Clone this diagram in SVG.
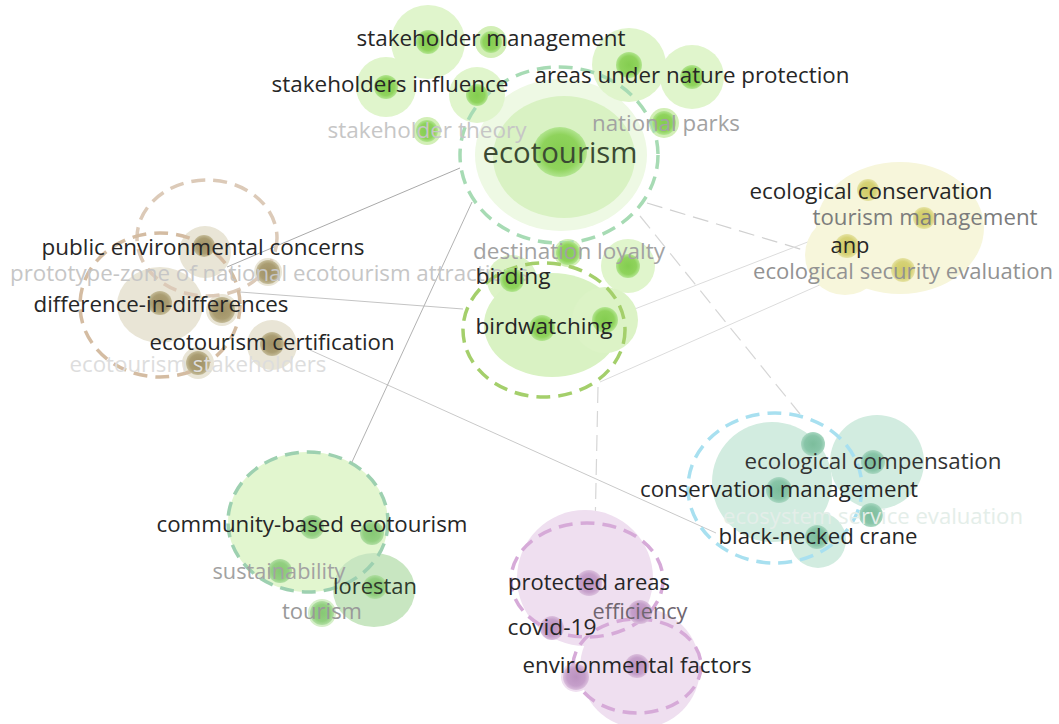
<svg xmlns="http://www.w3.org/2000/svg" width="1059" height="724" viewBox="0 0 1059 724">
<defs>
<radialGradient id="gG"><stop offset="0" stop-color="#84cd50"/><stop offset="0.7" stop-color="#8fd35c"/><stop offset="1" stop-color="#b2e590"/></radialGradient>
<radialGradient id="gT"><stop offset="0" stop-color="#a09166"/><stop offset="0.7" stop-color="#aa9d72"/><stop offset="1" stop-color="#c4bb98"/></radialGradient>
<radialGradient id="gY"><stop offset="0" stop-color="#cfca66"/><stop offset="0.7" stop-color="#d6d276"/><stop offset="1" stop-color="#e6e3a4"/></radialGradient>
<radialGradient id="gC"><stop offset="0" stop-color="#7cbd9c"/><stop offset="0.7" stop-color="#88c5a8"/><stop offset="1" stop-color="#a9d7c1"/></radialGradient>
<radialGradient id="gB"><stop offset="0" stop-color="#86c874"/><stop offset="0.7" stop-color="#92cf80"/><stop offset="1" stop-color="#b0dea2"/></radialGradient>
<radialGradient id="gP"><stop offset="0" stop-color="#bb92c0"/><stop offset="0.7" stop-color="#c59fca"/><stop offset="1" stop-color="#dbbfdd"/></radialGradient>
<style>
.lb{font-family:'Open Sans','Liberation Sans',sans-serif;font-size:21px;text-anchor:middle}
.k{fill:#262626}.m{fill:#7c7c7c}.g{fill:#a2a2a2}.l{fill:#c6c6c6}.xl{fill:#dddddd}
.dsh{fill:none;stroke-width:3.5;stroke-dasharray:14 8}
.hG{fill:#d9f2c3}.hT{fill:#e9e5d6}.hY{fill:#f7f6db}.hC{fill:#d2ece0}.hP{fill:#efdff0}
.ln{fill:none;stroke-width:1}
.lnd{fill:none;stroke-width:1.2;stroke-dasharray:16 8}
.dG{fill:url(#gG)}.dT{fill:url(#gT)}.dY{fill:url(#gY)}.dC{fill:url(#gC)}.dB{fill:url(#gB)}.dP{fill:url(#gP)}
</style>
</defs>
<rect width="1059" height="724" fill="#ffffff"/>

<g id="connectors">
<line class="ln" x1="460" y1="168" x2="227" y2="267" stroke="#a9a9a9"/>
<line class="ln" x1="240" y1="292" x2="463" y2="309" stroke="#c4c4c4"/>
<line class="ln" x1="310" y1="350" x2="716" y2="533" stroke="#c9c9c9"/>
<line class="ln" x1="472" y1="202" x2="310" y2="553" stroke="#b2b2b2"/>
<line class="lnd" x1="647" y1="203" x2="830" y2="258" stroke="#d0d0d0"/>
<line class="lnd" x1="640" y1="216" x2="800" y2="414" stroke="#d6d6d6"/>
<line class="ln" x1="627" y1="312" x2="818" y2="238" stroke="#dcdcdc"/>
<line class="ln" x1="600" y1="382" x2="840" y2="276" stroke="#dcdcdc"/>
<line class="lnd" x1="598" y1="387" x2="594" y2="580" stroke="#d6d6d6"/>
</g>

<g id="density">
<ellipse cx="561" cy="155" rx="86" ry="76" fill="#eef9e4"/>
<ellipse cx="564" cy="157" rx="71" ry="61" class="hG"/>
<circle cx="428" cy="42" r="37" fill="#e0f5cc"/>
<circle cx="491" cy="42" r="16" fill="#d2efb6"/>
<circle cx="386" cy="87" r="30" fill="#e0f5cc"/>
<circle cx="477" cy="95" r="28" fill="#e0f5cc"/>
<circle cx="427" cy="131" r="14" fill="#d2efb6"/>
<circle cx="629" cy="65" r="37" fill="#e0f5cc"/>
<circle cx="692" cy="77" r="32" fill="#e0f5cc"/>
<circle cx="664" cy="123" r="15" fill="#d2efb6"/>
<circle cx="568" cy="253" r="14" fill="#d2efb6"/>
<circle cx="628" cy="266" r="27" fill="#e0f5cc"/>
<circle cx="512" cy="280" r="25" fill="#dcf3c6"/>
<ellipse cx="552" cy="325" rx="68" ry="52" class="hG"/>
<circle cx="605" cy="320" r="33" fill="#dcf3c6"/>
<circle cx="205" cy="252" r="26" class="hT"/>
<circle cx="268" cy="272" r="14" class="hT"/>
<ellipse cx="160" cy="305" rx="43" ry="38" class="hT"/>
<circle cx="222" cy="310" r="16" class="hT"/>
<circle cx="272" cy="345" r="25" class="hT"/>
<circle cx="198" cy="363" r="16" class="hT"/>
<ellipse cx="900" cy="228" rx="84" ry="66" class="hY"/>
<circle cx="845" cy="255" r="40" class="hY"/>
<circle cx="772" cy="482" r="60" class="hC"/>
<circle cx="877" cy="462" r="47" class="hC"/>
<circle cx="818" cy="540" r="28" class="hC"/>
<ellipse cx="308" cy="522" rx="80" ry="70" fill="#e2f6cf"/>
<ellipse cx="374" cy="590" rx="41" ry="37" fill="#c8e6c1"/>
<circle cx="322" cy="613" r="14" fill="#d5efc8"/>
<circle cx="585" cy="578" r="68" class="hP"/>
<circle cx="640" cy="668" r="60" class="hP"/>
<circle cx="576" cy="677" r="15" class="hP"/>
</g>

<g id="clusters">
<ellipse class="dsh" cx="559" cy="155" rx="99" ry="88" stroke="#a7dbb4"/>
<ellipse class="dsh" cx="544" cy="330" rx="81" ry="67" stroke="#a4cf6b"/>
<ellipse class="dsh" cx="207" cy="238" rx="70" ry="58" stroke="#dccab8"/>
<ellipse class="dsh" cx="160" cy="305" rx="80" ry="72" stroke="#d4bca2"/>
<ellipse class="dsh" cx="775" cy="488" rx="87" ry="75" stroke="#a8e0f0"/>
<ellipse class="dsh" cx="308" cy="522" rx="80" ry="70" stroke="#9dd0b0"/>
<ellipse class="dsh" cx="587" cy="580" rx="76" ry="57" stroke="#d6aad8"/>
<ellipse class="dsh" cx="637" cy="666" rx="64" ry="47" stroke="#d6aad8"/>
</g>

<g id="n-u1"><circle class="dG" cx="428" cy="42" r="12"/></g>
<g id="n-u2"><circle class="dG" cx="477" cy="95" r="11"/></g>
<g id="n-u3"><circle class="dG" cx="629" cy="65" r="13"/></g>
<g id="n-u4"><circle class="dG" cx="628" cy="266" r="12"/></g>
<g id="n-u5"><circle class="dG" cx="605" cy="320" r="13"/></g>
<g id="n-u6"><circle class="dT" cx="222" cy="310" r="13"/></g>
<g id="n-u7"><circle class="dC" cx="813" cy="444" r="12"/></g>
<g id="n-u8"><circle class="dB" cx="372" cy="533" r="12"/></g>
<g id="n-u9"><circle class="dP" cx="576" cy="677" r="13"/></g>

<g id="n-ecotourism"><ellipse class="dG" cx="560" cy="152" rx="27" ry="25"/><text class="lb" x="560" y="163" style="font-size:29px;fill:#3b4a33" textLength="155" lengthAdjust="spacingAndGlyphs">ecotourism</text></g>
<g id="n-stakeholder-management"><circle class="dG" cx="491" cy="42" r="11"/><text class="lb k" x="491" y="46" textLength="269" lengthAdjust="spacingAndGlyphs">stakeholder management</text></g>
<g id="n-stakeholders-influence"><circle class="dG" cx="386" cy="87" r="12"/><text class="lb k" x="390" y="92" textLength="237" lengthAdjust="spacingAndGlyphs">stakeholders influence</text></g>
<g id="n-stakeholder-theory"><circle class="dG" cx="427" cy="131" r="11"/><text class="lb l" x="427" y="138" textLength="199" lengthAdjust="spacingAndGlyphs">stakeholder theory</text></g>
<g id="n-areas-under-nature-protection"><circle class="dG" cx="692" cy="77" r="12"/><text class="lb k" x="692" y="83" textLength="315" lengthAdjust="spacingAndGlyphs">areas under nature protection</text></g>
<g id="n-national-parks"><circle class="dG" cx="664" cy="123" r="12"/><text class="lb g" x="666" y="131" textLength="148" lengthAdjust="spacingAndGlyphs">national parks</text></g>
<g id="n-prototype-zone"><circle class="dT" cx="268" cy="272" r="12"/><text class="lb l" x="269" y="281" textLength="518" lengthAdjust="spacingAndGlyphs">prototype-zone of national ecotourism attractions</text></g>
<g id="n-destination-loyalty"><circle class="dG" cx="568" cy="253" r="12"/><text class="lb g" x="569" y="259" textLength="192" lengthAdjust="spacingAndGlyphs">destination loyalty</text></g>
<g id="n-birding"><circle class="dG" cx="512" cy="280" r="12"/><text class="lb k" x="513" y="284" textLength="75" lengthAdjust="spacingAndGlyphs">birding</text></g>
<g id="n-birdwatching"><circle class="dG" cx="542" cy="328" r="13"/><text class="lb k" x="544" y="334" textLength="137" lengthAdjust="spacingAndGlyphs">birdwatching</text></g>
<g id="n-public-environmental-concerns"><circle class="dT" cx="204" cy="246" r="11"/><text class="lb k" x="203" y="255" textLength="323" lengthAdjust="spacingAndGlyphs">public environmental concerns</text></g>
<g id="n-difference-in-differences"><circle class="dT" cx="160" cy="303" r="12"/><text class="lb k" x="161" y="312" textLength="255" lengthAdjust="spacingAndGlyphs">difference-in-differences</text></g>
<g id="n-ecotourism-certification"><circle class="dT" cx="272" cy="344" r="12"/><text class="lb k" x="272" y="350" textLength="245" lengthAdjust="spacingAndGlyphs">ecotourism certification</text></g>
<g id="n-ecotourism-stakeholders"><circle class="dT" cx="198" cy="363" r="12"/><text class="lb xl" x="198" y="372" textLength="257" lengthAdjust="spacingAndGlyphs">ecotourism stakeholders</text></g>
<g id="n-ecological-conservation"><circle class="dY" cx="868" cy="190" r="11"/><text class="lb k" x="871" y="199" textLength="243" lengthAdjust="spacingAndGlyphs">ecological conservation</text></g>
<g id="n-tourism-management"><circle class="dY" cx="924" cy="218" r="11"/><text class="lb m" x="925" y="225" textLength="225" lengthAdjust="spacingAndGlyphs">tourism management</text></g>
<g id="n-anp"><circle class="dY" cx="847" cy="246" r="12"/><text class="lb k" x="850" y="253" textLength="39" lengthAdjust="spacingAndGlyphs">anp</text></g>
<g id="n-ecological-security-evaluation"><circle class="dY" cx="903" cy="270" r="12"/><text class="lb" style="fill:#929292" x="903" y="279" textLength="300" lengthAdjust="spacingAndGlyphs">ecological security evaluation</text></g>
<g id="n-ecological-compensation"><circle class="dC" cx="873" cy="462" r="12"/><text class="lb" style="fill:#333" x="873" y="469" textLength="257" lengthAdjust="spacingAndGlyphs">ecological compensation</text></g>
<g id="n-conservation-management"><circle class="dC" cx="779" cy="490" r="13"/><text class="lb k" x="779" y="497" textLength="278" lengthAdjust="spacingAndGlyphs">conservation management</text></g>
<g id="n-ecosystem-service-evaluation"><circle class="dC" cx="871" cy="515" r="12"/><text class="lb" style="fill:#e4eee9" x="873" y="524" textLength="300" lengthAdjust="spacingAndGlyphs">ecosystem service evaluation</text></g>
<g id="n-black-necked-crane"><circle class="dC" cx="817" cy="537" r="12"/><text class="lb k" x="818" y="544" textLength="199" lengthAdjust="spacingAndGlyphs">black-necked crane</text></g>
<g id="n-community-based-ecotourism"><circle class="dB" cx="312" cy="527" r="12"/><text class="lb k" x="312" y="532" textLength="311" lengthAdjust="spacingAndGlyphs">community-based ecotourism</text></g>
<g id="n-sustainability"><circle class="dB" cx="280" cy="571" r="12"/><text class="lb g" x="279" y="579" textLength="133" lengthAdjust="spacingAndGlyphs">sustainability</text></g>
<g id="n-lorestan"><circle class="dB" cx="375" cy="587" r="12"/><text class="lb" style="fill:#2f3a2c" x="375" y="594" textLength="84" lengthAdjust="spacingAndGlyphs">lorestan</text></g>
<g id="n-tourism"><circle class="dB" cx="322" cy="613" r="12"/><text class="lb" style="fill:#999" x="322" y="619" textLength="80" lengthAdjust="spacingAndGlyphs">tourism</text></g>
<g id="n-protected-areas"><circle class="dP" cx="589" cy="583" r="13"/><text class="lb k" x="589" y="590" textLength="162" lengthAdjust="spacingAndGlyphs">protected areas</text></g>
<g id="n-efficiency"><circle class="dP" cx="640" cy="612" r="12"/><text class="lb" style="fill:#6f6670" x="640" y="619" textLength="95" lengthAdjust="spacingAndGlyphs">efficiency</text></g>
<g id="n-covid-19"><circle class="dP" cx="552" cy="628" r="12"/><text class="lb k" x="552" y="635" textLength="89" lengthAdjust="spacingAndGlyphs">covid-19</text></g>
<g id="n-environmental-factors"><circle class="dP" cx="637" cy="666" r="12"/><text class="lb k" x="637" y="673" textLength="229" lengthAdjust="spacingAndGlyphs">environmental factors</text></g>
</svg>
